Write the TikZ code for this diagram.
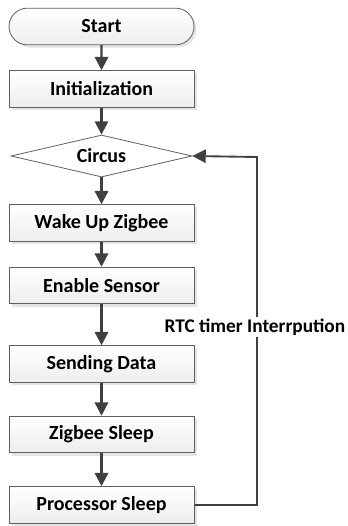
\documentclass[tikz,border=0pt]{standalone}
\usepackage{fontspec}
\setmainfont{Carlito}
\usetikzlibrary{shapes.geometric,shapes.misc,shadows,arrows.meta}
\definecolor{linec}{HTML}{404040}
\definecolor{borderc}{HTML}{606060}
\tikzset{
  txt/.style={font=\bfseries\fontsize{15}{17}\selectfont},
  procbox/.style={rectangle, draw=borderc, line width=0.6pt, top color=white, bottom color=gray!14,
    minimum width=138.75pt, minimum height=27.5pt, inner sep=0pt, txt,
    drop shadow={shadow xshift=2pt, shadow yshift=-2pt, fill=gray!35, opacity=0.6}},
  startbox/.style={procbox, rounded rectangle},
  decbox/.style={diamond, draw=borderc, line width=0.6pt, fill=white, aspect=4.3,
    minimum width=135.75pt, minimum height=31.5pt, inner sep=0pt, txt},
  flow/.style={draw=linec, line width=1.7pt, -{Triangle[length=10pt,width=10pt]}},
  loopline/.style={draw=linec, line width=1.4pt, -{Triangle[length=10pt,width=10pt]}},
  lbl/.style={fill=white, inner sep=1pt, font=\bfseries\fontsize{14.5}{17}\selectfont}
}
\begin{document}
\begin{tikzpicture}[x=0.75pt,y=-0.75pt]
\useasboundingbox (0,0) rectangle (348,526);
\node[startbox] (start) at (101.5,26.5) {Start};
\node[procbox] (init) at (101.5,89) {Initialization};
\node[decbox] (circ) at (101.5,156) {Circus};
\node[procbox] (wake) at (101.5,223) {Wake Up Zigbee};
\node[procbox] (enable) at (101.5,285.5) {Enable Sensor};
\node[procbox] (send) at (101.5,364) {Sending Data};
\node[procbox] (zsleep) at (101.5,434.5) {Zigbee Sleep};
\node[procbox] (psleep) at (101.5,505) {Processor Sleep};
\coordinate (c1) at (257,505);
\coordinate (c2) at (257,157);
\draw[flow] (start) -- (init);
\draw[flow] (init) -- (circ);
\draw[flow] (circ) -- (wake);
\draw[flow] (wake) -- (enable);
\draw[flow] (enable) -- (send);
\draw[flow] (send) -- (zsleep);
\draw[flow] (zsleep) -- (psleep);
\draw[loopline] (psleep.east) -- (c1) -- (c2) -- (circ.east);
\node[lbl] (rtc) at (255,327) {RTC timer Interrpution};
\end{tikzpicture}
\end{document}
